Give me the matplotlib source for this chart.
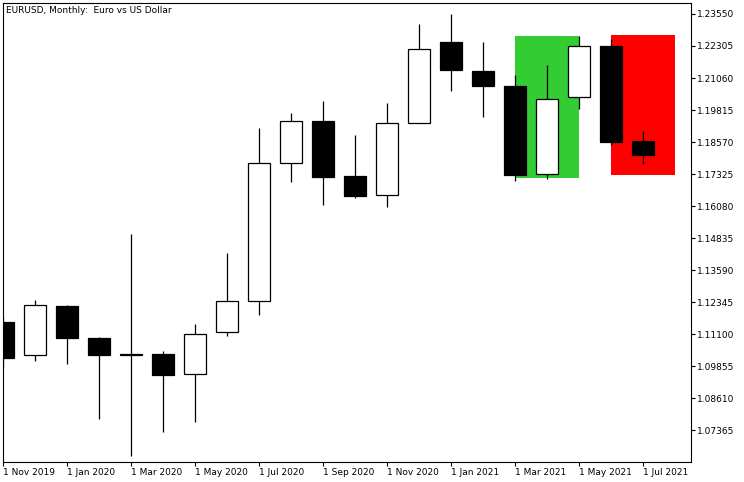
"""EURUSD monthly candles with two highlighted zones."""
import matplotlib
matplotlib.use("Agg")
import matplotlib.pyplot as plt
import matplotlib.patches as mpatches
import numpy as np

MONTHS = ["Nov 2019", "Dec 2019", "Jan 2020", "Feb 2020", "Mar 2020",
          "Apr 2020", "May 2020", "Jun 2020", "Jul 2020", "Aug 2020",
          "Sep 2020", "Oct 2020", "Nov 2020", "Dec 2020", "Jan 2021",
          "Feb 2021", "Mar 2021", "Apr 2021", "May 2021", "Jun 2021",
          "Jul 2021"]
OPEN = [1.1157, 1.1027, 1.1219, 1.1095, 1.1029, 1.1032, 1.0954, 1.1117,
        1.1237, 1.1775, 1.1939, 1.1725, 1.1650, 1.1931, 1.2246, 1.2133,
        1.2075, 1.1732, 1.2033, 1.2231, 1.1861]
HIGH = [1.1175, 1.1243, 1.1224, 1.1099, 1.1499, 1.1044, 1.1149, 1.1425,
        1.1912, 1.1970, 1.2017, 1.1884, 1.2009, 1.2316, 1.2355, 1.2246,
        1.2117, 1.2155, 1.2269, 1.2257, 1.1900]
LOW = [1.0981, 1.1006, 1.0995, 1.0781, 1.0637, 1.0730, 1.0769, 1.1104,
       1.1184, 1.1700, 1.1613, 1.1640, 1.1605, 1.1931, 1.2057, 1.1956,
       1.1707, 1.1714, 1.1987, 1.1845, 1.1773]
CLOSE = [1.1018, 1.1222, 1.1096, 1.1030, 1.1032, 1.0952, 1.1109, 1.1237,
         1.1775, 1.1938, 1.1722, 1.1648, 1.1930, 1.2218, 1.2138, 1.2076,
         1.1730, 1.2023, 1.2229, 1.1858, 1.1808]

# highlighted zones: (first month, last month, low price, high price)
GREEN_ZONE = ("Mar 2021", "May 2021", 1.1717, 1.2269)
RED_ZONE = ("Jun 2021", "Aug 2021", 1.1730, 1.2273)

YTICKS = [1.07365, 1.08610, 1.09855, 1.11100, 1.12345, 1.13590, 1.14835,
          1.16080, 1.17325, 1.18570, 1.19815, 1.21060, 1.22305, 1.23550]

TITLE = "EURUSD, Monthly:  Euro vs US Dollar"
FONT = "DejaVu Sans"


def month_pos(label):
    """Position of a month on the x axis (may be past the last candle)."""
    if label in MONTHS:
        return MONTHS.index(label)
    mon, year = label.split()
    last_mon, last_year = MONTHS[-1].split()
    names = ["Jan", "Feb", "Mar", "Apr", "May", "Jun", "Jul", "Aug", "Sep",
             "Oct", "Nov", "Dec"]
    diff = (int(year) - int(last_year)) * 12 + names.index(mon) \
        - names.index(last_mon)
    return len(MONTHS) - 1 + diff


def draw_zone(ax, zone, color):
    x0 = month_pos(zone[0])
    x1 = month_pos(zone[1])
    rect = mpatches.Rectangle((x0, zone[2]), x1 - x0, zone[3] - zone[2],
                              facecolor=color, edgecolor="none", zorder=1)
    ax.add_patch(rect)


def main():
    fig = plt.figure(figsize=(7.44, 4.82), dpi=100)
    W, H = 744, 482
    left, right, top, bottom = 2.7, 691, 2.5, 461.5
    ax = fig.add_axes([left / W, 1 - bottom / H, (right - left) / W,
                       (bottom - top) / H])

    draw_zone(ax, GREEN_ZONE, "#33CC33")
    draw_zone(ax, RED_ZONE, "#FF0000")

    x = np.arange(len(MONTHS))
    o = np.array(OPEN)
    c = np.array(CLOSE)
    lo = np.minimum(o, c)
    hi = np.maximum(o, c)
    ax.vlines(x, LOW, lo, color="black", linewidth=0.9, zorder=2)
    ax.vlines(x, hi, HIGH, color="black", linewidth=0.9, zorder=2)
    colors = ["white" if cl > op else "black" for op, cl in zip(OPEN, CLOSE)]
    ax.bar(x, hi - lo, bottom=lo, width=0.68, color=colors,
           edgecolor="black", linewidth=0.9, zorder=3)

    ax.set_xlim(-0.01, 21.5)
    ax.set_ylim(1.06142, 1.23997)

    ax.set_xticks(x[::2])
    ax.set_xticklabels(["1 " + m for m in MONTHS[::2]], fontsize=6.5,
                       family=FONT)
    for t in ax.get_xticklabels():
        t.set_ha("left")
    ax.tick_params(axis="x", length=3, width=0.8, pad=1.5)

    ax.yaxis.tick_right()
    ax.set_yticks(YTICKS)
    ax.set_yticklabels(["%.5f" % v for v in YTICKS], fontsize=6.5,
                       family=FONT)
    ax.tick_params(axis="y", length=3, width=0.8, pad=1.5)

    for sp in ax.spines.values():
        sp.set_linewidth(0.8)
        sp.set_color("black")

    ax.text(0.005, 0.992, TITLE, transform=ax.transAxes, fontsize=6.5,
            family=FONT, va="top", ha="left")

    fig.savefig("out.png", dpi=100)
    plt.close(fig)


if __name__ == "__main__":
    main()
